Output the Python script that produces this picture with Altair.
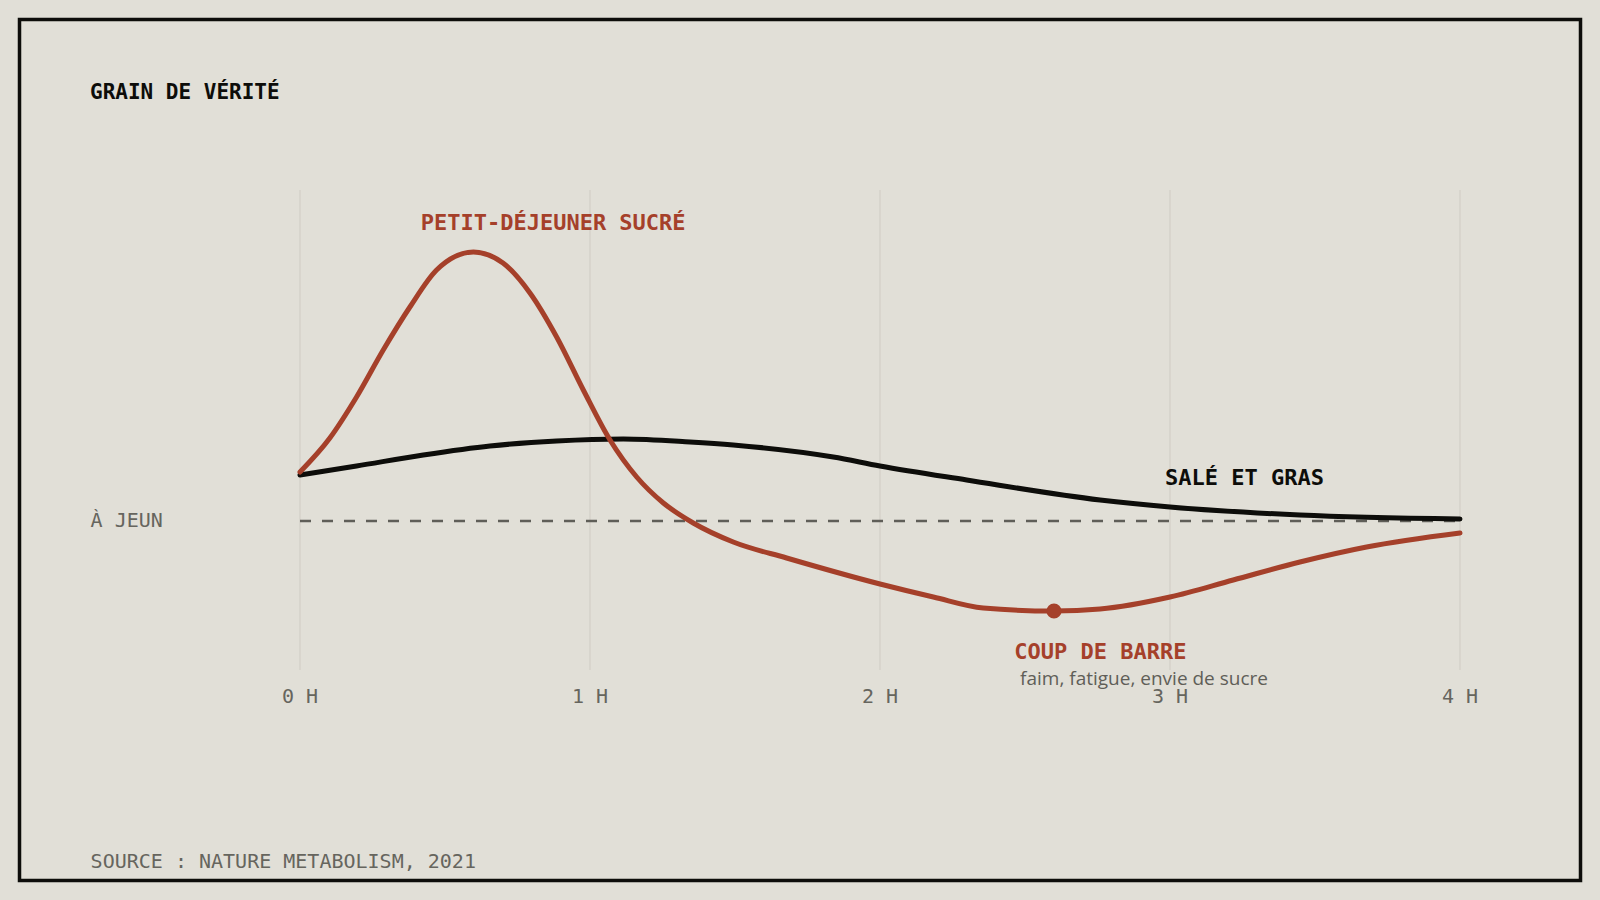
import altair as alt
import pandas as pd

BG = "#e1dfd7"
RED = "#a5402a"
INK = "#0d0d0a"
GRAY = "#66655e"
GRID = "#cfccc4"
MONO = "DejaVu Sans Mono"
SANS = "Open Sans"

# Sweet breakfast curve (hours, glycaemia relative to fasting level)
sweet_hours = [0, 0.103, 0.195, 0.287, 0.379, 0.471, 0.598, 0.70, 0.793, 0.885,
               0.977, 1.069, 1.161, 1.253, 1.356, 1.494, 1.678, 2.0, 2.184, 2.356,
               2.6, 2.759, 3.0, 3.218, 3.448, 3.678, 4.0]
sweet_values = [49, 83, 124, 171, 214, 251, 269, 258, 228, 184,
                131, 81, 44, 18, -2, -21, -37, -63, -76, -87,
                -90, -88, -76, -59, -41, -26, -12]

# Salty & fatty breakfast curve
salty_hours = [0, 0.195, 0.425, 0.655, 0.885, 1.115, 1.345, 1.494, 1.839, 2.0,
               2.299, 2.759, 3.0, 3.448, 4.0]
salty_values = [46, 55, 66, 75, 80, 82, 79, 76, 64, 55,
                41, 21, 14, 6, 2]

tick_hours = [0, 1, 2, 3, 4]
tick_labels = ["0 H", "1 H", "2 H", "3 H", "4 H"]

dip_hour = [2.6]
dip_value = [-90]

x_scale = alt.Scale(domain=[-0.96724, 4.41552], nice=False, zero=False)
y_scale = alt.Scale(domain=[-359.5, 501.5], nice=False, zero=False)


def X(field):
    return alt.X(field, type="quantitative", scale=x_scale, axis=None)


def Y(field):
    return alt.Y(field, type="quantitative", scale=y_scale, axis=None)


W, H = 1561, 861

frame = alt.Chart(pd.DataFrame({"k": [0]})).mark_rect(
    filled=False, stroke=INK, strokeWidth=3.5
).encode(x=alt.value(0), x2=alt.value(W), y=alt.value(0), y2=alt.value(H))

grid_df = pd.DataFrame({"h": tick_hours, "top": [331] * 5, "bottom": [-149] * 5})
grid = alt.Chart(grid_df).mark_rule(color=GRID, strokeWidth=1).encode(
    x=X("h"), y=Y("top"), y2="bottom"
)

base_df = pd.DataFrame({"h0": [0], "h1": [4], "v": [0]})
baseline = alt.Chart(base_df).mark_rule(
    color="#5f5e58", strokeWidth=2.5, strokeDash=[11, 11]
).encode(x=X("h0"), x2="h1", y=Y("v"))

salty_df = pd.DataFrame({"h": salty_hours, "v": salty_values})
salty = alt.Chart(salty_df).mark_line(
    color=INK, strokeWidth=5, interpolate="monotone", strokeCap="round"
).encode(x=X("h"), y=Y("v"))

sweet_df = pd.DataFrame({"h": sweet_hours, "v": sweet_values})
sweet = alt.Chart(sweet_df).mark_line(
    color=RED, strokeWidth=5, interpolate="monotone", strokeCap="round"
).encode(x=X("h"), y=Y("v"))

dip_df = pd.DataFrame({"h": dip_hour, "v": dip_value})
dip = alt.Chart(dip_df).mark_circle(color=RED, opacity=1, size=230).encode(
    x=X("h"), y=Y("v")
)

tick_df = pd.DataFrame({"h": tick_hours, "v": [-181.7] * 5, "t": tick_labels})
ticks = alt.Chart(tick_df).mark_text(
    align="center", baseline="alphabetic", font=MONO, fontSize=20, color=GRAY
).encode(x=X("h"), y=Y("v"), text="t")


def label(text, h, v, size, color, weight="normal", font=MONO, align="left"):
    df = pd.DataFrame({"h": [h], "v": [v], "t": [text]})
    return alt.Chart(df).mark_text(
        align=align, baseline="alphabetic", font=font, fontSize=size,
        fontWeight=weight, color=color
    ).encode(x=X("h"), y=Y("v"), text="t")


title = label("GRAIN DE VÉRITÉ", -0.7241, 422, 21, INK, "bold")
fasting = label("À JEUN", -0.722, -6.3, 20, GRAY)
sweet_lbl = label("PETIT-DÉJEUNER SUCRÉ", 0.4162, 291, 22, RED, "bold")
salty_lbl = label("SALÉ ET GRAS", 2.983, 36.3, 22, INK, "bold")
dip_lbl = label("COUP DE BARRE", 2.463, -138.3, 22, RED, "bold")
dip_sub = label("faim, fatigue, envie de sucre", 2.483, -164, 19, "#5f5e58", font=SANS)
source = label("SOURCE : NATURE METABOLISM, 2021", -0.722, -346.7, 20, GRAY)

chart = alt.layer(
    frame, grid, baseline, salty, sweet, dip, ticks,
    title, fasting, sweet_lbl, salty_lbl, dip_lbl, dip_sub, source
).properties(
    width=W, height=H,
    padding={"left": 19.5, "top": 19.5, "right": 19.5, "bottom": 19.5},
    autosize=alt.AutoSizeParams(type="none"),
).configure_view(
    stroke=None
).configure(background=BG)

chart.save("out.html", embed_options={"renderer": "svg", "actions": False})
